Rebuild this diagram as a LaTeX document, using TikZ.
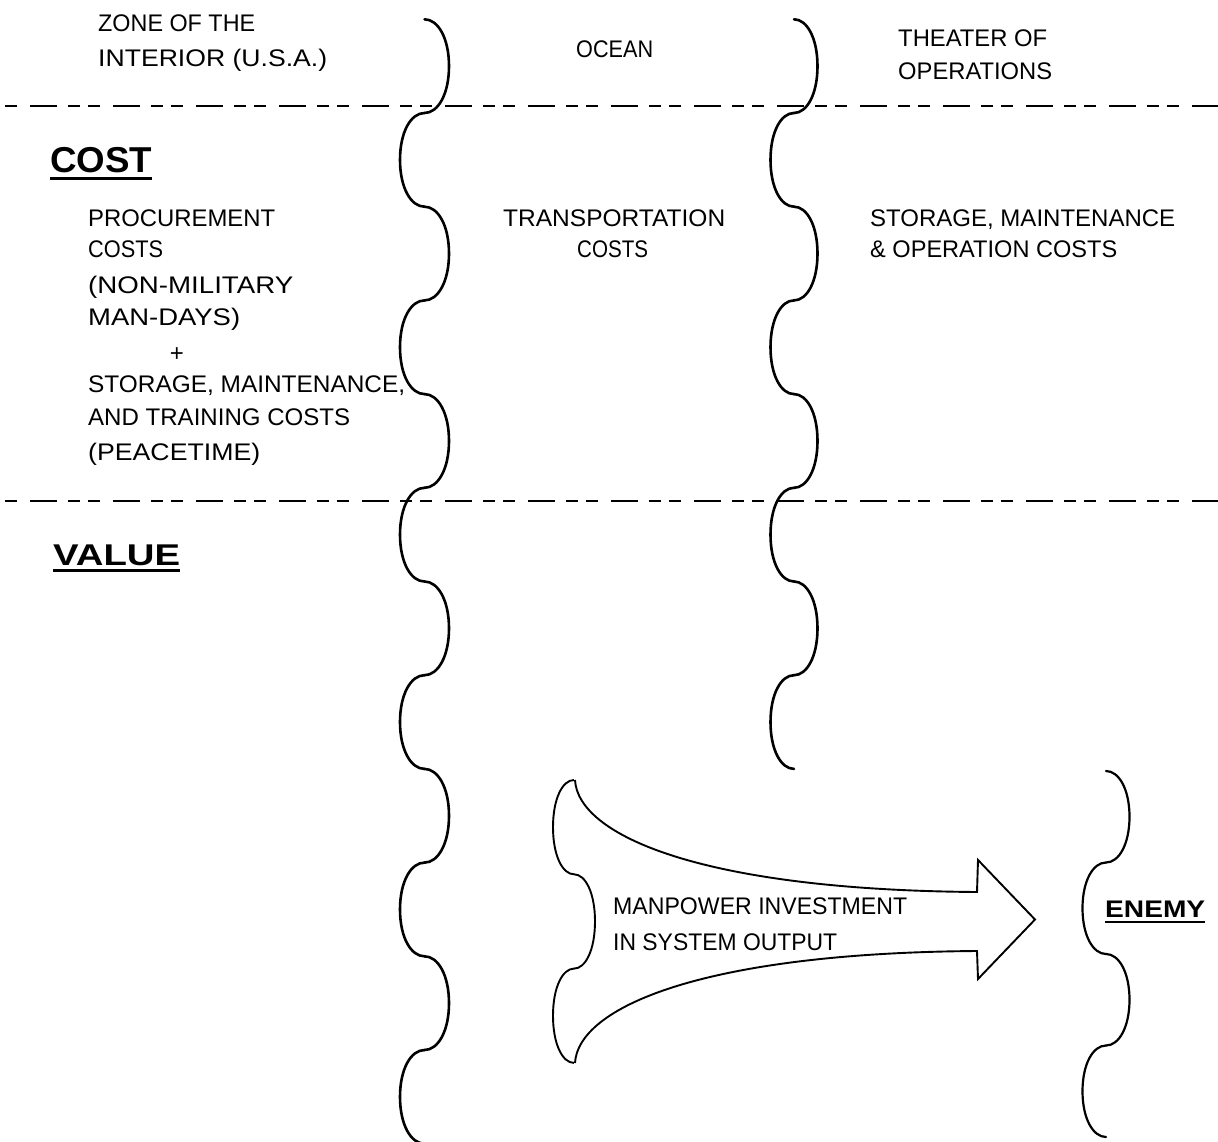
\documentclass[tikz,border=0pt]{standalone}
\usepackage{fontspec}
\setmainfont{Liberation Sans}
\usepackage{graphicx}

% set a line of text to an exact width, keeping its height
\newcommand{\fitline}[2]{\resizebox{#1}{\height}{#2}}

% a column of brace-like half waves running downwards
% #1 style, #2 centre x, #3 first y, #4 half length, #5 number of halves, #6 bulge of the first half
\newcommand{\bracewave}[6]{%
  \foreach \k in {1,...,#5}{%
    \pgfmathsetmacro{\wy}{#3+(\k-1)*#4}%
    \pgfmathsetmacro{\wz}{#3+\k*#4}%
    \pgfmathsetmacro{\wb}{mod(\k,2)==1 ? (#6) : -(#6)}%
    \draw[#1] (#2,\wy) .. controls ({#2+0.55*\wb},\wy) and ({#2+\wb},{\wy+0.2*#4}) ..
      ({#2+\wb},{\wy+0.5*#4}) .. controls ({#2+\wb},{\wz-0.2*#4}) and ({#2+0.55*\wb},\wz) .. (#2,\wz);
  }}

\tikzset{
  txt/.style={anchor=base west, inner sep=0pt, font=\fontsize{24}{28}\selectfont},
  head/.style={anchor=base west, inner sep=0pt, font=\bfseries\fontsize{#1}{#1}\selectfont},
  wave/.style={line width=2.6pt, line cap=round},
  thinwave/.style={line width=2.2pt, line cap=round},
  arrowline/.style={line width=1.9pt, line join=miter},
  divider/.style={line width=2.8pt, dash pattern=on 27pt off 11pt on 12pt off 8pt on 12pt off 13pt, dash phase=53pt},
  uline/.style={line width=2.4pt}
}

\begin{document}
\begin{tikzpicture}[x=1pt, y=-1pt]
\fill[white] (0,0) rectangle (1218,1142);
\useasboundingbox (0,0) rectangle (1218,1142);

% section dividers
\draw[divider] (0,106) -- (1218,106);
\draw[divider] (0,501) -- (1218,501);

% column boundaries
\bracewave{wave}{424.5}{19.3}{93.7}{12}{24.5}
\bracewave{wave}{794}{19.3}{93.7}{8}{23.5}
\bracewave{thinwave}{1106}{771}{91.5}{4}{23.5}

% column headings
\node[txt] (zoneA) at (98,32) {\fitline{157pt}{ZONE OF THE}};
\node[txt] (zoneB) at (98,67) {\fitline{229pt}{INTERIOR (U.S.A.)}};
\node[txt] (ocean) at (576,58) {\fitline{77pt}{OCEAN}};
\node[txt] (theaterA) at (898,47) {\fitline{149pt}{THEATER OF}};
\node[txt] (theaterB) at (898,80) {\fitline{154pt}{OPERATIONS}};

% cost row
\node[head=36] (cost) at (50,173) {\fitline{102pt}{COST}};
\draw[uline] ([yshift=-5.5pt]cost.base west) -- ([yshift=-5.5pt]cost.base east);

\node[txt] (procA) at (88,227) {\fitline{187pt}{PROCUREMENT}};
\node[txt] (procB) at (88,258) {\fitline{75pt}{COSTS}};
\node[txt] (procC) at (88,293) {\fitline{205pt}{(NON-MILITARY}};
\node[txt] (procD) at (88,325) {\fitline{152pt}{MAN-DAYS)}};
\node[txt, anchor=base] (plus) at (177,361) {+};
\node[txt] (peaceA) at (88,392) {\fitline{317pt}{STORAGE, MAINTENANCE,}};
\node[txt] (peaceB) at (88,425) {\fitline{262pt}{AND TRAINING COSTS}};
\node[txt] (peaceC) at (88,460) {\fitline{172pt}{(PEACETIME)}};

\node[txt] (transA) at (503,227) {\fitline{222pt}{TRANSPORTATION}};
\node[txt] (transB) at (577,258) {\fitline{71pt}{COSTS}};

\node[txt] (storA) at (870,227) {\fitline{305pt}{STORAGE, MAINTENANCE}};
\node[txt] (storB) at (870,258) {\fitline{247pt}{\&\ OPERATION COSTS}};

% value row
\node[head=30] (value) at (53,565) {\fitline{127pt}{VALUE}};
\draw[uline] ([yshift=-5.5pt]value.base west) -- ([yshift=-5.5pt]value.base east);

% output arrow
\bracewave{arrowline}{574}{780}{94.3}{3}{-21}
\draw[arrowline] (575,780) .. controls (578,835) and (700,890) .. (977,892)
  -- (978,860) -- (1035,919.5) -- (978,979) -- (977,951)
  .. controls (700,953) and (578,1008) .. (575,1063);
\node[txt] (manA) at (613,914) {\fitline{294pt}{MANPOWER INVESTMENT}};
\node[txt] (manB) at (613,950) {\fitline{224pt}{IN SYSTEM OUTPUT}};

% enemy
\node[head=24] (enemy) at (1105,917) {\fitline{100pt}{ENEMY}};
\draw[line width=2pt] ([yshift=-5pt]enemy.base west) -- ([yshift=-5pt]enemy.base east);
\end{tikzpicture}
\end{document}
